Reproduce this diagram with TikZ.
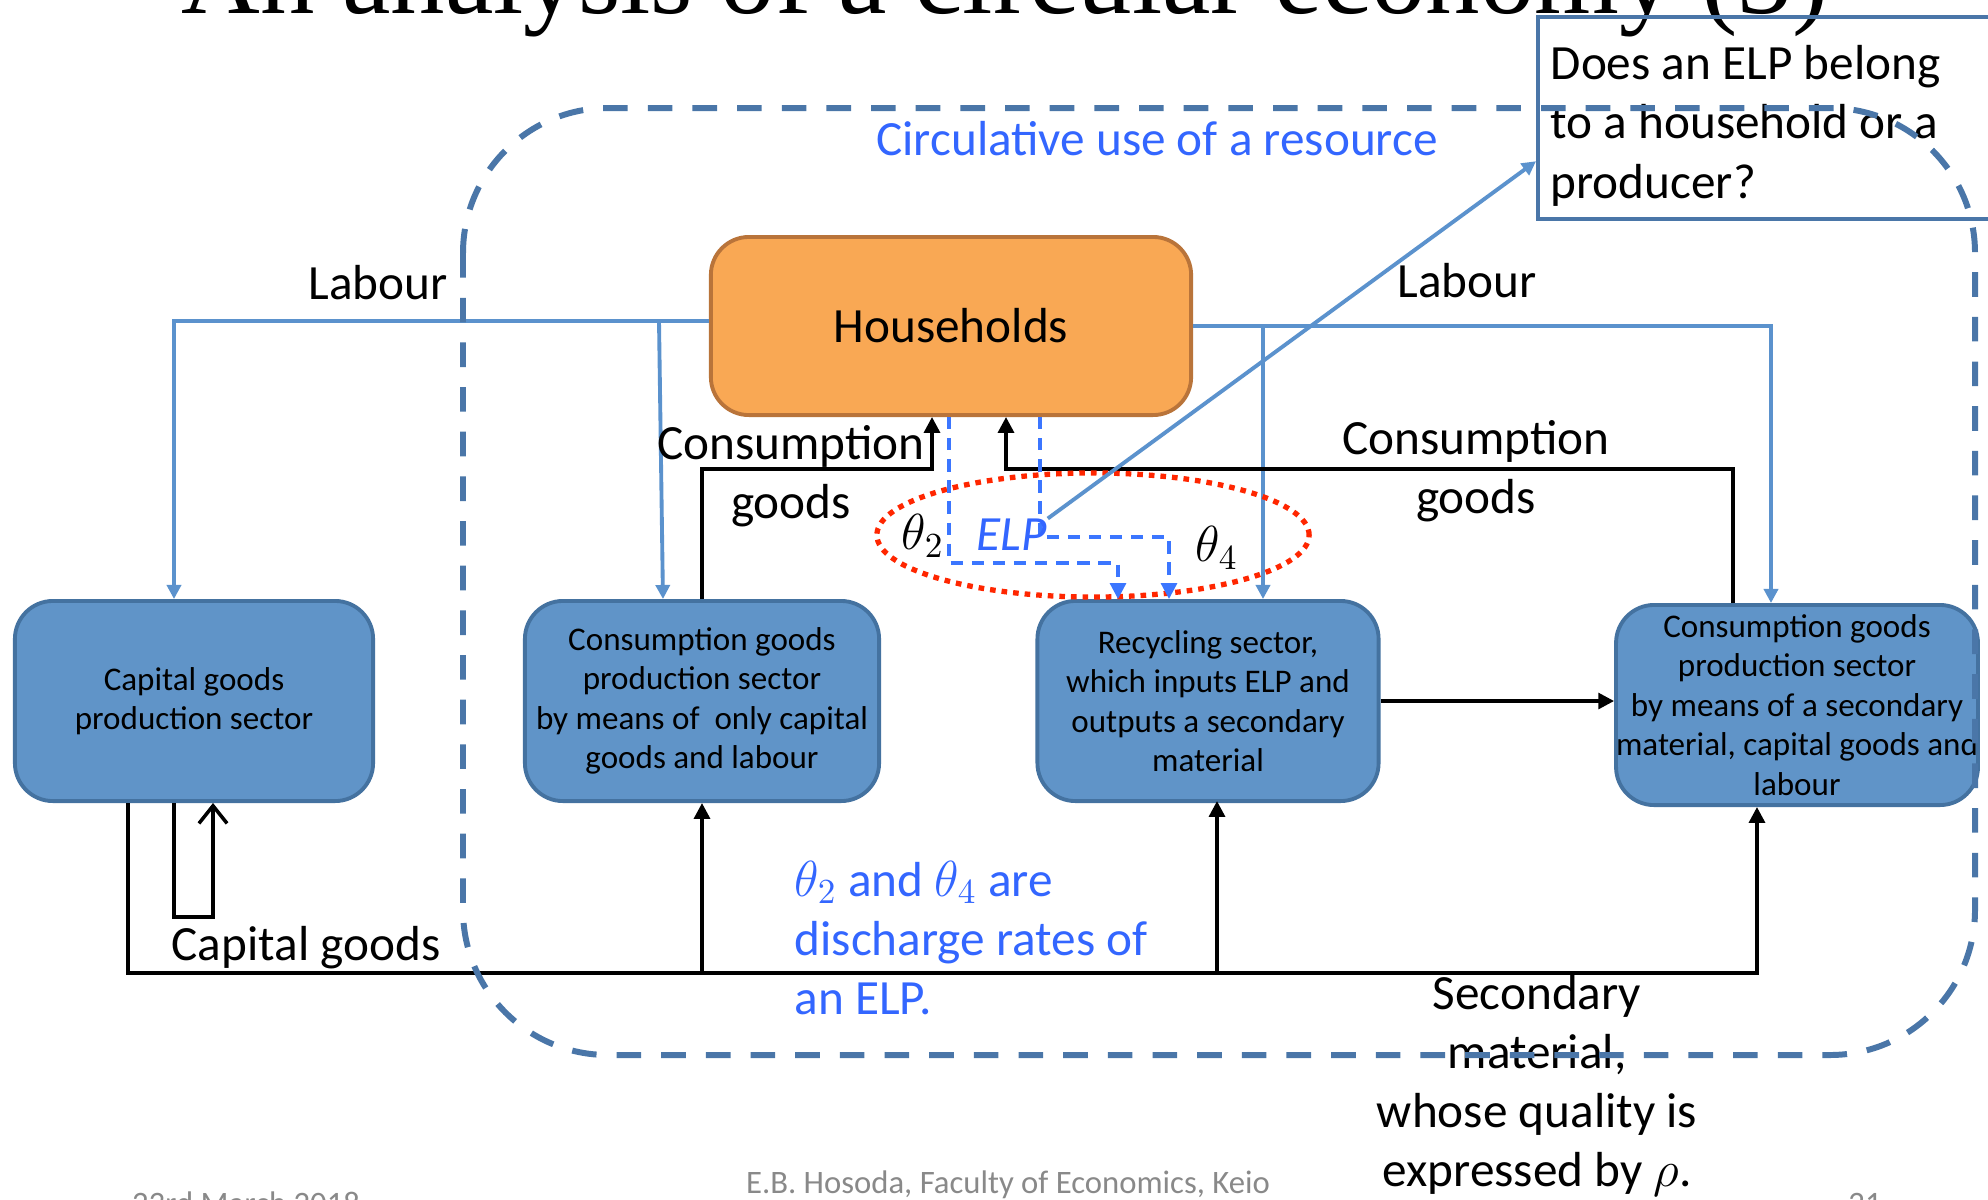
\documentclass[tikz,border=0pt]{standalone}
\usepackage{fontspec}
\setmainfont{Carlito}
\newfontfamily\ttlfont{Liberation Serif}
\usetikzlibrary{arrows.meta}

\definecolor{boxfill}{RGB}{96,148,200}
\definecolor{boxline}{RGB}{68,114,160}
\definecolor{housefill}{RGB}{249,168,84}
\definecolor{houseline}{RGB}{185,116,58}
\definecolor{labourblue}{RGB}{91,146,205}
\definecolor{elpblue}{RGB}{59,118,255}
\definecolor{textblue}{RGB}{51,102,255}
\definecolor{frameblue}{RGB}{74,118,168}
\definecolor{ringred}{RGB}{255,38,0}
\definecolor{footgray}{RGB}{137,137,137}

\tikzset{
    sector/.style={draw=boxline, fill=boxfill, line width=1.1pt, rounded corners=0.38cm,
        inner sep=0pt, align=center, minimum height=2cm, font=\fontsize{9.4}{11.2}\selectfont},
    txt/.style={inner sep=0pt, align=center, font=\fontsize{14}{16.8}\selectfont},
    flow/.style={line width=1pt, -{Triangle[length=4.5pt,width=4.5pt]}},
    labour/.style={draw=labourblue, line width=1.1pt, -{Triangle[length=4pt,width=4pt]}},
    elpflow/.style={draw=elpblue, line width=0.9pt, dash pattern=on 3.5pt off 2.5pt,
        -{Triangle[length=4.5pt,width=4.5pt]}},
    ring/.style={draw=ringred, line width=1.5pt, dash pattern=on 1.6pt off 1.7pt},
    foot/.style={inner sep=0pt, anchor=base, text=footgray, font=\fontsize{9.3}{11}\selectfont}
}

\begin{document}
\begin{tikzpicture}[x=0.01cm, y=-0.01cm]
        \useasboundingbox (0,0) rectangle (1988,1199);
        \clip (0,0) rectangle (1988,1199);

        %%%%%%%% Titolo %%%%%%%%%
        \node[anchor=base, inner sep=0pt, font=\ttlfont\fontsize{31}{36}\selectfont] (title) at (1005,13) {An analysis of a circular economy (3)};

        %%%%%%%% Settori %%%%%%%%%
        \node[sector, fill=housefill, draw=houseline, minimum width=4.8cm, minimum height=1.78cm,
            font=\fontsize{14}{16.8}\selectfont] (house) at (951,326) {Households};
        \node[sector, minimum width=3.58cm] (cap) at (194,701) {Capital goods\\production sector};
        \node[sector, minimum width=3.54cm] (cons1) at (702,701) {Consumption goods\\production sector\\by means of\ \ only capital\\goods and labour};
        \node[sector, minimum width=3.41cm] (recyc) at (1208,701) {Recycling sector,\\which inputs ELP and\\outputs a secondary\\material};
        \node[sector, minimum width=3.57cm] (cons2) at (1797,705) {Consumption goods\\production sector\\by means of a secondary\\material, capital goods and\\labour};

        %%%%%%%% Labour %%%%%%%%%
        \coordinate (labL) at (659,321);
        \coordinate (labR) at (1263,326);
        \draw[labour] ([yshift=0.05cm]house.west) -| ([xshift=-0.2cm]cap.north);
        \draw[labour] (labL) -- ([xshift=-0.39cm]cons1.north);
        \draw[labour] (house.east) -| ([xshift=-0.26cm]cons2.north);
        \draw[labour] (labR) -- (labR |- recyc.north);

        %%%%%%%% Beni %%%%%%%%%
        \coordinate (cgL) at (932,469);
        \coordinate (cgR) at (1006,469);
        \draw[flow] (cons1.north) |- (cgL) -- (cgL |- house.south);
        \draw[flow] ([xshift=-0.64cm]cons2.north) |- (cgR) -- (cgR |- house.south);

        \coordinate (bot) at (0,971);
        \coordinate (rin) at (1217,801);
        \draw[flow] ([xshift=-0.66cm]cap.south) -- ++(0,170) -| ([xshift=-0.4cm]cons2.south);
        \draw[flow] (cons1.south |- bot) -- (cons1.south);
        \draw[flow] (rin |- bot) -- (rin);
        \draw[line width=1pt, -{Straight Barb[length=5pt,width=8pt]}] ([xshift=-0.2cm]cap.south) -- ++(0,114) -| ([xshift=0.19cm]cap.south);
        \draw[flow] (recyc.east) -- (recyc.east -| cons2.west);

        %%%%%%%% ELP %%%%%%%%%
        \draw[ring] (1093,535) ellipse [x radius=2.16cm, y radius=0.62cm];
        \coordinate (e2) at (1118,563);
        \coordinate (e4) at (1169,537);
        \draw[elpflow] ([xshift=-0.02cm]house.south) |- (e2) -- (e2 |- recyc.north);
        \draw[elpflow] ([xshift=0.89cm]house.south) |- (e4) -- (e4 |- recyc.north);

        \node[txt] (th2) at (923,536) {$\theta_2$};
        \node[txt, text=textblue, font=\fontsize{14}{16.8}\selectfont\itshape] (elp) at (1012,535) {ELP};
        \node[txt] (th4) at (1217,548) {$\theta_4$};

        %%%%%%%% Domanda %%%%%%%%%
        \node[draw=frameblue, line width=1.2pt, anchor=north west, minimum width=4.8cm,
            minimum height=2.02cm, inner sep=0pt] (q) at (1536,15) {};
        \node[txt, align=left, anchor=north west] (qtxt) at (1550,45) {Does an ELP belong\\to a household or a\\producer?};
        \draw[labour] (elp.north east) -- ([yshift=-0.43cm]q.west);

        %%%%%%%% Testo %%%%%%%%%
        \node[txt, text=textblue] (circ) at (1157,139) {Circulative use of a resource};
        \node[txt] (labl) at (378,283) {Labour};
        \node[txt] (labr) at (1467,281) {Labour};
        \node[txt] (cgl) at (791,476) {Consumption\\goods};
        \node[txt] (cgr) at (1476,471) {Consumption\\goods};
        \node[txt] (capg) at (306,948) {Capital goods};
        \node[txt] (sec) at (1537,1086) {Secondary\\material,\\whose quality is\\expressed by $\rho$.};
        \node[txt, align=left, anchor=west, text=textblue] (note) at (794,938) {$\theta_2$ and $\theta_4$ are\\discharge rates of\\an ELP.};

        %%%%%%%% Cornice %%%%%%%%%
        \draw[frameblue, line width=1.7pt, dash pattern=on 7pt off 5.7pt, rounded corners=1.45cm] (463,108) rectangle (1975,1055);

        \node[foot] (date) at (246,1214) {23rd March 2018};
        \node[foot] (author) at (1008,1193) {E.B. Hosoda, Faculty of Economics, Keio};
        \node[foot] (page) at (1865,1214) {21};

    \end{tikzpicture}
\end{document}
